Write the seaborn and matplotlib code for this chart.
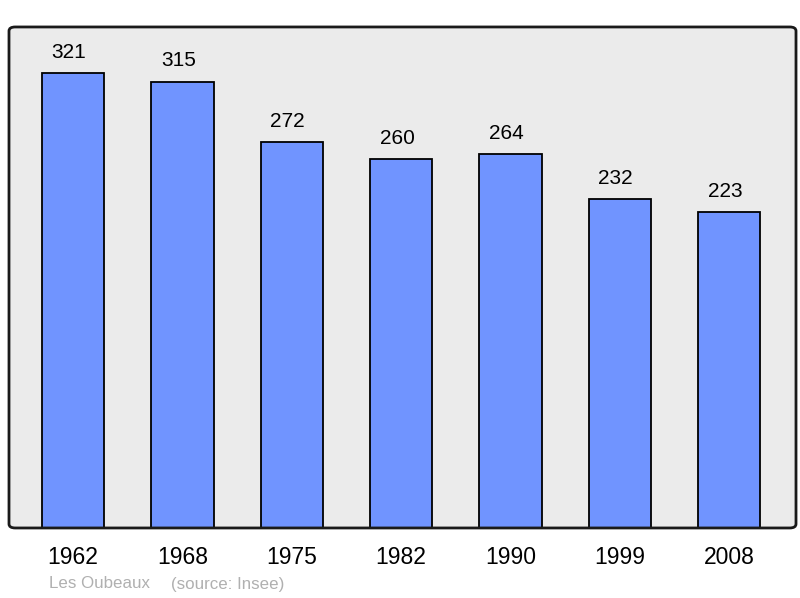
import matplotlib
matplotlib.use('Agg')
import matplotlib.pyplot as plt
from matplotlib.patches import FancyBboxPatch
import seaborn as sns

# 数据
years = ['1962', '1968', '1975', '1982', '1990', '1999', '2008']
population = [321, 315, 272, 260, 264, 232, 223]
commune = 'Les Oubeaux'
source = '(source: Insee)'

sns.set_style('white')
plt.rcParams['font.family'] = ['Liberation Sans', 'DejaVu Sans']

fig = plt.figure(figsize=(8, 5.98), dpi=100)
ax = fig.add_axes([0.01125, 0.1171, 0.98375, 0.8378])

sns.barplot(x=years, y=population, color='#7094ff', saturation=1,
            width=0.57, edgecolor='black', linewidth=1.3, ax=ax, zorder=2)

ax.set_xlim(-0.585, 6.61)
ax.set_ylim(0, 353.5)
ax.set_yticks([])
ax.set_xlabel('')
ax.set_ylabel('')
ax.tick_params(axis='x', length=0, pad=13, labelsize=16.5, labelcolor='black')
for s in ax.spines.values():
    s.set_visible(False)
ax.patch.set_visible(False)

# 背景和圆角边框
bg = FancyBboxPatch((0, 0), 1, 1, boxstyle='round,pad=0,rounding_size=0.008',
                    transform=ax.transAxes, facecolor='#ebebeb', edgecolor='none',
                    zorder=0, clip_on=False)
ax.add_patch(bg)
frame = FancyBboxPatch((0, 0), 1, 1, boxstyle='round,pad=0,rounding_size=0.008',
                       transform=ax.transAxes, facecolor='none', edgecolor='#1a1a1a',
                       linewidth=2, zorder=5, clip_on=False)
ax.add_patch(frame)

# 数值标签
for i, v in enumerate(population):
    ax.annotate(str(v), (i, v), xytext=(-3, 8), textcoords='offset points',
                ha='center', va='bottom', fontsize=15, color='black')

fig.text(49 / 800, 1 - 584 / 598, commune, ha='left', va='center',
         fontsize=12.2, color='#b0b0b0')
fig.text(171 / 800, 1 - 584 / 598, source, ha='left', va='center',
         fontsize=12.2, color='#b0b0b0')

fig.savefig('out.png', dpi=100)
